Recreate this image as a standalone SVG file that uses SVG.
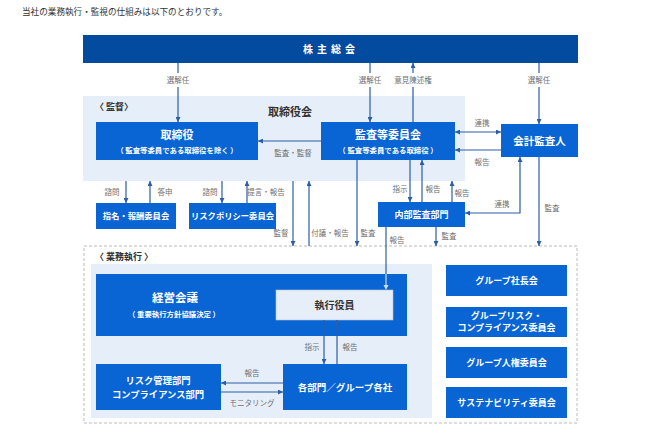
<svg xmlns="http://www.w3.org/2000/svg" width="645" height="441" viewBox="0 0 645 441">
<style>
text{font-family:"Noto Sans CJK JP","Noto Sans",sans-serif;}
.bx{fill:#0964d4;}
.t{fill:#fff;font-weight:700;text-anchor:middle;}
.s{fill:#fff;font-weight:700;text-anchor:middle;font-size:7.4px;}
.lb{fill:#707070;font-size:7.5px;text-anchor:middle;}
.ln{stroke:#2a5ea8;stroke-width:1.2;fill:none;}
.lt{stroke:#cddcf2;stroke-width:1.2;fill:none;}
</style>
<defs>
<marker id="ah" viewBox="0 0 6 6" refX="6" refY="3" markerWidth="5" markerHeight="5" orient="auto-start-reverse" markerUnits="userSpaceOnUse">
<path d="M0,0 L6,3 L0,6 z" fill="#2a5ea8"/>
</marker>
</defs>
<rect width="645" height="441" fill="#fff"/>
<text x="22" y="15" font-size="8.6" fill="#333">当社の業務執行・監視の仕組みは以下のとおりです。</text>

<g id="shareholders">
<rect x="83" y="35" width="495" height="28" fill="#034b9e"/>
<text x="331" y="52.5" class="t" font-size="10" letter-spacing="4">株主総会</text>
</g>

<g id="board-region">
<rect x="83" y="96" width="382" height="85" fill="#e6eef9"/>
<text x="95" y="110" font-size="9" fill="#333" font-weight="700">〈 監督〉</text>
<text x="290" y="116" font-size="11" fill="#333" font-weight="700" text-anchor="middle">取締役会</text>
</g>

<g id="exec-region">
<rect x="84" y="246" width="493" height="177" fill="none" stroke="#aaa" stroke-width="0.8" stroke-dasharray="3,2"/>
<text x="95" y="260" font-size="9" fill="#333" font-weight="700">〈 業務執行 〉</text>
<rect x="91" y="264" width="341" height="154" fill="#e6eef9"/>
</g>

<g id="directors">
<rect class="bx" x="96" y="122" width="162" height="38"/>
<text x="177" y="139" class="t" font-size="11">取締役</text>
<text x="177" y="153" class="s">（ 監査等委員である取締役を除く ）</text>
</g>

<g id="audit-committee">
<rect class="bx" x="321" y="122" width="134" height="38"/>
<text x="388" y="139" class="t" font-size="11">監査等委員会</text>
<text x="388" y="153" class="s">（ 監査等委員である取締役 ）</text>
</g>

<g id="accounting-auditor">
<rect class="bx" x="501" y="124" width="77" height="33"/>
<text x="539.5" y="144.5" class="t" font-size="10.5">会計監査人</text>
</g>

<g id="nomination">
<rect class="bx" x="96" y="203" width="80" height="26"/>
<text x="136" y="219" class="t" font-size="8.3">指名・報酬委員会</text>
</g>

<g id="risk-policy">
<rect class="bx" x="189" y="203" width="87" height="26"/>
<text x="232.5" y="219" class="t" font-size="8.3">リスクポリシー委員会</text>
</g>

<g id="internal-audit">
<rect class="bx" x="378" y="202" width="87" height="25"/>
<text x="421.5" y="217.5" class="t" font-size="9">内部監査部門</text>
</g>

<g id="management-council">
<rect class="bx" x="96" y="274" width="311" height="62"/>
<text x="175" y="302" class="t" font-size="11.5">経営会議</text>
<text x="174" y="317" class="s" font-size="7.6">（ 重要執行方針協議決定 ）</text>
</g>

<g id="executive-officers">
<rect x="276" y="290" width="117" height="30" fill="#e6eef9" stroke="#b5c4d8" stroke-width="0.6"/>
<text x="334.5" y="308.5" font-size="10" font-weight="700" fill="#333" text-anchor="middle">執行役員</text>
</g>

<g id="risk-dept">
<rect class="bx" x="96" y="364" width="125" height="46"/>
<text x="158" y="384" class="t" font-size="9.3">リスク管理部門</text>
<text x="158" y="398" class="t" font-size="9.3">コンプライアンス部門</text>
</g>

<g id="departments">
<rect class="bx" x="283" y="364" width="124" height="46"/>
<text x="345" y="390.5" class="t" font-size="9.5">各部門／グループ各社</text>
</g>

<g id="group-president">
<rect class="bx" x="446" y="265" width="121" height="31"/>
<text x="506.5" y="283.5" class="t" font-size="9">グループ社長会</text>
</g>
<g id="group-risk">
<rect class="bx" x="446" y="307" width="121" height="30"/>
<text x="506.5" y="319" class="t" font-size="9">グループリスク・</text>
<text x="506.5" y="331" class="t" font-size="9">コンプライアンス委員会</text>
</g>
<g id="group-hr">
<rect class="bx" x="446" y="347" width="121" height="31"/>
<text x="506.5" y="365.5" class="t" font-size="9">グループ人権委員会</text>
</g>
<g id="sustainability">
<rect class="bx" x="446" y="387" width="121" height="31"/>
<text x="506.5" y="405.5" class="t" font-size="9">サステナビリティ委員会</text>
</g>

<g id="connectors">
<path class="ln" d="M178,63 V73 M178,87 V122" marker-end="url(#ah)"/>
<path class="ln" d="M370,63 V73 M370,87 V122" marker-end="url(#ah)"/>
<path class="ln" d="M413,122 V87 M413,73 V63" marker-end="url(#ah)"/>
<path class="ln" d="M539,63 V73 M539,87 V124" marker-end="url(#ah)"/>
<path class="ln" d="M321,141 H258" marker-end="url(#ah)"/>
<path class="ln" d="M455,132 H501" marker-start="url(#ah)" marker-end="url(#ah)"/>
<path class="ln" d="M501,150 H455" marker-end="url(#ah)"/>
<path class="ln" d="M126,181 V203" marker-end="url(#ah)"/>
<path class="ln" d="M150,203 V181" marker-end="url(#ah)"/>
<path class="ln" d="M222,181 V203" marker-end="url(#ah)"/>
<path class="ln" d="M247,203 V181" marker-end="url(#ah)"/>
<path class="ln" d="M293,181 V246" marker-end="url(#ah)"/>
<path class="ln" d="M309,246 V181" marker-end="url(#ah)"/>
<path class="ln" d="M357,160 V246" marker-end="url(#ah)"/>
<path class="ln" d="M410,160 V202" marker-end="url(#ah)"/>
<path class="ln" d="M422,202 V160" marker-end="url(#ah)"/>
<path class="ln" d="M452,202 V181" marker-end="url(#ah)"/>
<path class="ln" d="M465,213 H520 V157" marker-start="url(#ah)" marker-end="url(#ah)"/>
<path class="ln" d="M539,157 V246" marker-end="url(#ah)"/>
<path class="ln" d="M436,227 V246" marker-end="url(#ah)"/>
<path class="ln" d="M386,227 V274"/>
<path class="lt" d="M386,274 V285"/>
<path d="M383.5,285 L386,290 L388.5,285 z" fill="#cddcf2"/>
<path class="ln" d="M324,320 V364" marker-end="url(#ah)"/>
<path class="ln" d="M337,364 V320" marker-end="url(#ah)"/>
<path class="ln" d="M283,383 H221" marker-end="url(#ah)"/>
<path class="ln" d="M221,392 H283" marker-end="url(#ah)"/>
</g>

<g id="labels">
<text class="lb" x="178" y="83">選解任</text>
<text class="lb" x="370" y="83">選解任</text>
<text class="lb" x="413" y="83">意見陳述権</text>
<text class="lb" x="539" y="83">選解任</text>
<text class="lb" x="293" y="156">監査・監督</text>
<text class="lb" x="482" y="126">連携</text>
<text class="lb" x="482" y="165">報告</text>
<text class="lb" x="112" y="195">諮問</text>
<text class="lb" x="165" y="195">答申</text>
<text class="lb" x="210" y="195">諮問</text>
<text class="lb" x="266" y="195">提言・報告</text>
<text class="lb" x="281" y="236">監督</text>
<text class="lb" x="330" y="236">付議・報告</text>
<text class="lb" x="368" y="236">監査</text>
<text class="lb" x="400" y="192">指示</text>
<text class="lb" x="433" y="192">報告</text>
<text class="lb" x="462" y="196">報告</text>
<text class="lb" x="502" y="207">連携</text>
<text class="lb" x="552" y="211">監査</text>
<text class="lb" x="397" y="243">報告</text>
<text class="lb" x="449" y="239">監査</text>
<text class="lb" x="312" y="350">指示</text>
<text class="lb" x="350" y="350">報告</text>
<text class="lb" x="252" y="376">報告</text>
<text class="lb" x="252" y="406">モニタリング</text>
</g>
</svg>
